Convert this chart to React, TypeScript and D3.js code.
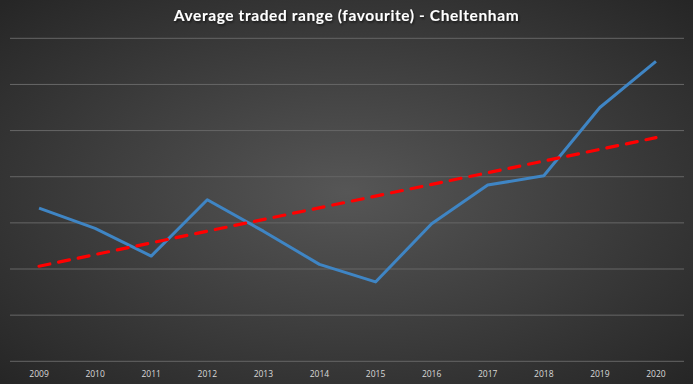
import React from 'react';
import * as d3 from 'd3';

const years = ['2009', '2010', '2011', '2012', '2013', '2014', '2015', '2016', '2017', '2018', '2019', '2020'];
const avgRange = [1.66, 1.44, 1.14, 1.75, 1.41, 1.05, 0.86, 1.49, 1.91, 2.01, 2.75, 3.25];
const yTicks = [0, 0.5, 1, 1.5, 2, 2.5, 3, 3.5];

const W = 693;
const H = 384;
const margin = { top: 38.3, right: 9, bottom: 22.7, left: 11 };

const App = () => {
  const x = d3.scaleBand().domain(years).range([margin.left, W - margin.right]);
  const y = d3.scaleLinear().domain([0, 3.5]).range([H - margin.bottom, margin.top]);
  const cx = (yr: string) => (x(yr) || 0) + x.bandwidth() / 2;

  const line = d3.line<number>()
    .x((d, i) => cx(years[i]))
    .y(d => y(d));

  // linear trend (least squares over year index)
  const n = avgRange.length;
  const mx = d3.mean(avgRange.map((d, i) => i)) as number;
  const my = d3.mean(avgRange) as number;
  const slope = d3.sum(avgRange, (d, i) => (i - mx) * (d - my)) / d3.sum(avgRange, (d, i) => (i - mx) ** 2);
  const trend = avgRange.map((d, i) => my + slope * (i - mx));
  const trendPts: [number, number][] = [
    [cx(years[0]), y(trend[0])],
    [cx(years[n - 1]), y(trend[n - 1])],
  ];

  return (
    <svg width={W} height={H} style={{ display: 'block', position: 'absolute', left: 0, top: 0 }}>
      <defs>
        <radialGradient id="bg" cx="50%" cy="50%" r="70%">
          <stop offset="0%" stopColor="#565656" />
          <stop offset="100%" stopColor="#262626" />
        </radialGradient>
        <filter id="sh" x="-5%" y="-30%" width="110%" height="160%">
          <feDropShadow dx="1" dy="1.5" stdDeviation="1" floodColor="#000" floodOpacity="0.6" />
        </filter>
      </defs>
      <rect width={W} height={H} fill="url(#bg)" />
      <text x={W / 2} y={21} textAnchor="middle" fill="#ffffff" fontFamily="Lato, 'Open Sans', sans-serif"
        fontWeight="bold" fontSize="15.5" letterSpacing="0.6" filter="url(#sh)">
        Average traded range (favourite) - Cheltenham
      </text>
      {yTicks.map(t => (
        <line key={t} x1={margin.left - 1} x2={W - margin.right} y1={y(t)} y2={y(t)}
          stroke="#666666" strokeWidth={1} />
      ))}
      {years.map(yr => (
        <text key={yr} x={cx(yr)} y={H - 7} textAnchor="middle" fill="#d9d9d9"
          fontFamily="'Open Sans', sans-serif" fontSize="8.5">{yr}</text>
      ))}
      <path d={line(avgRange) || ''} fill="none" stroke="#3f85c4" strokeWidth={3} strokeLinejoin="round" />
      <path d={d3.line()(trendPts) || ''} fill="none" stroke="#ff0000" strokeWidth={3.2}
        strokeDasharray="11 9" strokeLinecap="round" />
    </svg>
  );
};

export default App;
